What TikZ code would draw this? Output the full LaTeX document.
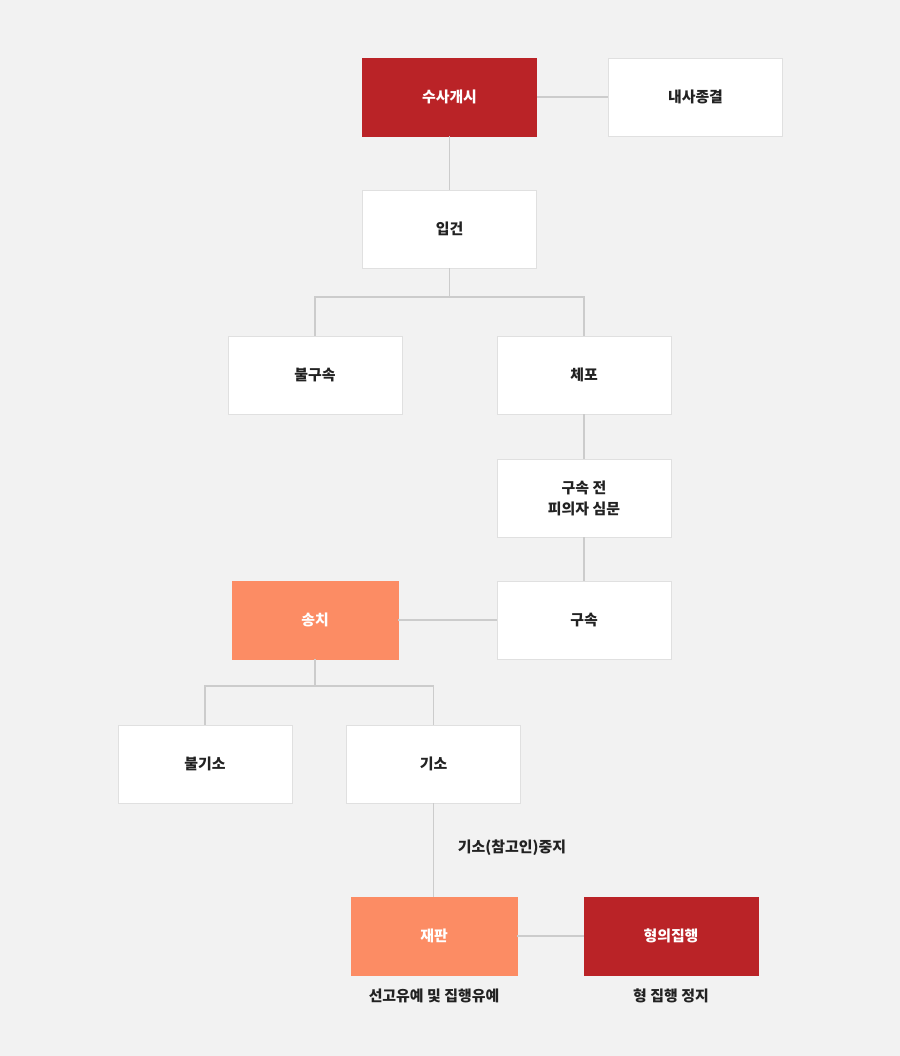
\documentclass[tikz,border=0pt]{standalone}
\usepackage{fontspec}
\newfontfamily\kr{Noto Sans CJK KR}
\definecolor{bgcol}{HTML}{F2F2F2}
\definecolor{darkred}{HTML}{BA2327}
\definecolor{salmon}{HTML}{FC8C64}
\definecolor{edgecol}{HTML}{CCCCCC}
\definecolor{boxline}{HTML}{E0E0E0}
\definecolor{txt}{HTML}{222222}
\tikzset{
  stagebox/.style={draw=boxline, fill=white, minimum width=3.48cm, minimum height=1.56cm,
    inner sep=0pt, align=center, text=txt, font=\kr\bfseries\fontsize{8.5}{12}\selectfont},
  redbox/.style={stagebox, draw=darkred, fill=darkred, text=white},
  orangebox/.style={stagebox, draw=salmon, fill=salmon, text=white, minimum width=3.32cm},
  note/.style={text=txt, font=\kr\bfseries\fontsize{8.5}{12}\selectfont},
  link/.style={draw=edgecol, line width=0.8pt}
}
\begin{document}
\begin{tikzpicture}[x=0.02cm,y=-0.02cm]
\fill [bgcol] (0,0) rectangle (900,1056);
\useasboundingbox (0,0) rectangle (900,1056);
% boxes
\node [redbox] (start) at (449.5,97) {수사개시};
\node [stagebox] (close) at (695.5,97) {내사종결};
\node [stagebox] (book) at (449.5,229) {입건};
\node [stagebox] (free) at (315,375) {불구속};
\node [stagebox] (arrest) at (584,375) {체포};
\node [stagebox] (hear) at (584,498) {구속 전\\피의자 심문};
\node [stagebox] (detain) at (584,620) {구속};
\node [orangebox] (send) at (315,620) {송치};
\node [stagebox] (nocharge) at (205,764) {불기소};
\node [stagebox] (charge) at (433.5,764) {기소};
\node [orangebox] (trial) at (434,936) {재판};
\node [redbox] (exec) at (671,936) {형의집행};
% labels
\node [note] (pause) at (512,848) {기소(참고인)중지};
\node [note] (susp) at (434,996) {선고유예 및 집행유예};
\node [note] (stop) at (671,996) {형 집행 정지};
% links
\coordinate (fork1) at (449.5,297);
\coordinate (fork2) at (315,686);
\draw [link] (start) -- (close);
\draw [link] (start) -- (book);
\draw [link] (book) -- (fork1) -| (free);
\draw [link] (fork1) -| (arrest);
\draw [link] (arrest) -- (hear);
\draw [link] (hear) -- (detain);
\draw [link] (detain) -- (send);
\draw [link] (send) -- (fork2) -| (nocharge);
\draw [link] (fork2) -| (charge);
\draw [link] (charge.south) -- (charge.south |- trial.north);
\draw [link] (trial) -- (exec);
\end{tikzpicture}
\end{document}
